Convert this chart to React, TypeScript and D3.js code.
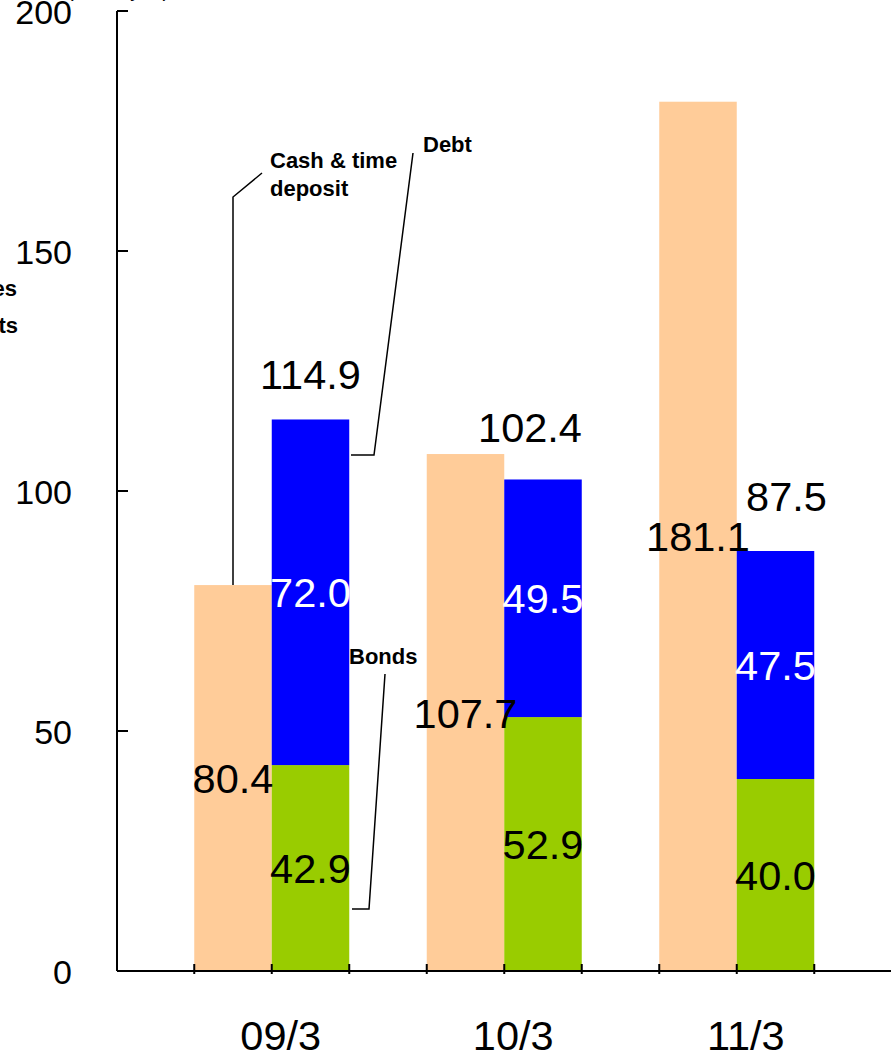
import React from "react";
import * as d3 from "d3";

const categories = ["09/3", "10/3", "11/3"];
const cashDeposit = [80.4, 107.7, 181.1];
const bonds = [42.9, 52.9, 40.0];
const debtOther = [72.0, 49.5, 47.5];
const debtTotal = [114.9, 102.4, 87.5];
const yTicks = [0, 50, 100, 150, 200];

// layout tweaks for the total labels (dx, dy from bar top)
const totalLabelOffset: [number, number][] = [[0, -30], [-13, -37], [11, -40]];

const W = 891;
const H = 1057;
const FONT = "'Liberation Sans', Arial, Helvetica, sans-serif";
const C_CASH = "#FFCC99";
const C_DEBT = "#0000FF";
const C_BOND = "#99CC00";

export default function App() {
  const y = d3.scaleLinear().domain([0, 200]).range([971, 11]);
  const x = d3.scaleBand<string>().domain(categories).range([155.5, 853]).padding(0);
  const sub = d3.scaleBand<string>().domain(["cash", "debt"]).range([0, x.bandwidth()]).paddingInner(0).paddingOuter(0.5);
  const bw = sub.bandwidth();
  const axisX = 117;

  const edges: number[] = [];
  categories.forEach((c) => {
    const x0 = (x(c) as number) + (sub("cash") as number);
    edges.push(x0, x0 + bw, x0 + 2 * bw);
  });

  return (
    <svg width={W} height={H} style={{ position: "absolute", left: 0, top: 0, background: "#fff" }} fontFamily={FONT}>
      {/* cropped peripheral texts */}
      <text x={67} y={-3} fontSize={20} fill="#000">(billion yen)</text>
      <text x={17} y={296} fontSize={22} fontWeight="bold" textAnchor="end" fill="#000">Cash &amp; securities</text>
      <text x={18} y={333} fontSize={22} fontWeight="bold" textAnchor="end" fill="#000">Interest-bearing debts</text>

      {/* bars */}
      {categories.map((c, i) => {
        const xc = (x(c) as number) + (sub("cash") as number);
        const xd = (x(c) as number) + (sub("debt") as number);
        const cashMid = (y(0) + y(cashDeposit[i])) / 2;
        const bondMid = (y(0) + y(bonds[i])) / 2;
        const debtMid = (y(bonds[i]) + y(bonds[i] + debtOther[i])) / 2;
        const [tdx, tdy] = totalLabelOffset[i];
        return (
          <g key={c}>
            <rect x={xc} y={y(cashDeposit[i])} width={bw} height={y(0) - y(cashDeposit[i])} fill={C_CASH} />
            <rect x={xd} y={y(bonds[i])} width={bw} height={y(0) - y(bonds[i])} fill={C_BOND} />
            <rect x={xd} y={y(bonds[i] + debtOther[i])} width={bw} height={y(bonds[i]) - y(bonds[i] + debtOther[i])} fill={C_DEBT} />
            <text x={xc + bw / 2} y={cashMid + 15} fontSize={41.5} textAnchor="middle" fill="#000">{cashDeposit[i].toFixed(1)}</text>
            <text x={xd + bw / 2} y={bondMid + 15} fontSize={41.5} textAnchor="middle" fill="#000">{bonds[i].toFixed(1)}</text>
            <text x={xd + bw / 2} y={debtMid + 15} fontSize={41.5} textAnchor="middle" fill="#fff">{debtOther[i].toFixed(1)}</text>
            <text x={xd + bw / 2 + tdx} y={y(debtTotal[i]) + tdy} fontSize={41.5} textAnchor="middle" fill="#000">{debtTotal[i].toFixed(1)}</text>
            <text x={(x(c) as number) + x.bandwidth() / 2 + 9} y={1050} fontSize={41.5} textAnchor="middle" fill="#000">{c}</text>
          </g>
        );
      })}

      {/* y axis */}
      <line x1={axisX} y1={y(200)} x2={axisX} y2={y(0)} stroke="#000" strokeWidth={2} />
      {yTicks.map((t) => (
        <g key={t}>
          <line x1={axisX} x2={axisX + 11} y1={y(t)} y2={y(t)} stroke="#000" strokeWidth={2} />
          <text x={72} y={y(t) + 13} fontSize={34} textAnchor="end" fill="#000">{t}</text>
        </g>
      ))}

      {/* x axis */}
      <line x1={axisX} y1={y(0)} x2={W} y2={y(0)} stroke="#000" strokeWidth={2} />
      {edges.map((e, i) => (
        <line key={i} x1={e} x2={e} y1={y(0) - 7} y2={y(0) + 3} stroke="#000" strokeWidth={2} />
      ))}

      {/* annotations */}
      <g fontSize={22} fontWeight="bold" fill="#000">
        <text x={270} y={168}>Cash &amp; time</text>
        <text x={270} y={196}>deposit</text>
        <text x={423} y={152}>Debt</text>
        <text x={349} y={664}>Bonds</text>
      </g>
      <g fill="none" stroke="#000" strokeWidth={1.5}>
        <polyline points={`${(x(categories[0]) as number) + (sub("cash") as number) + bw / 2},${y(cashDeposit[0])} ${(x(categories[0]) as number) + (sub("cash") as number) + bw / 2},197 262,173`} />
        <polyline points="351,455 374,455 413,153" />
        <polyline points="385,674 369,909 352,909" />
      </g>
    </svg>
  );
}
